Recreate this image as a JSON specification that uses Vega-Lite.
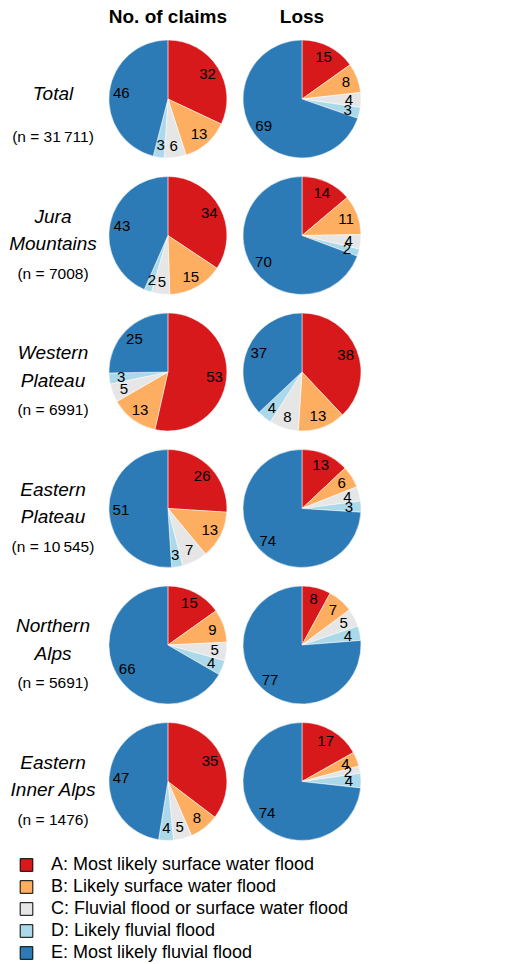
{
  "$schema": "https://vega.github.io/schema/vega-lite/v6.json",
  "padding": {"left": 0, "top": 8, "right": 0, "bottom": 0},
  "background": "white",
  "bounds": "flush",
  "config": {"font": "Liberation Sans", "view": {"stroke": null}},
  "datasets": {
    "cats": [
      {"code": "A", "category": "A: Most likely surface water flood"},
      {"code": "B", "category": "B: Likely surface water flood"},
      {"code": "C", "category": "C: Fluvial flood or surface water flood"},
      {"code": "D", "category": "D: Likely fluvial flood"},
      {"code": "E", "category": "E: Most likely fluvial flood"}
    ]
  },
  "data": {"values": [
    {"region": "Total", "measure": "label", "name": "Total", "n": "(n = 31\u2009711)"},
    {"region": "Jura Mountains", "measure": "label", "name": "Jura|Mountains", "n": "(n = 7008)"},
    {"region": "Western Plateau", "measure": "label", "name": "Western|Plateau", "n": "(n = 6991)"},
    {"region": "Eastern Plateau", "measure": "label", "name": "Eastern|Plateau", "n": "(n = 10\u2009545)"},
    {"region": "Northern Alps", "measure": "label", "name": "Northern|Alps", "n": "(n = 5691)"},
    {"region": "Eastern Inner Alps", "measure": "label", "name": "Eastern|Inner Alps", "n": "(n = 1476)"},

    {"region": "Total", "measure": "No. of claims", "code": "A", "value": 32},
    {"region": "Total", "measure": "No. of claims", "code": "B", "value": 13},
    {"region": "Total", "measure": "No. of claims", "code": "C", "value": 6},
    {"region": "Total", "measure": "No. of claims", "code": "D", "value": 3},
    {"region": "Total", "measure": "No. of claims", "code": "E", "value": 46},
    {"region": "Total", "measure": "Loss", "code": "A", "value": 15},
    {"region": "Total", "measure": "Loss", "code": "B", "value": 8},
    {"region": "Total", "measure": "Loss", "code": "C", "value": 4},
    {"region": "Total", "measure": "Loss", "code": "D", "value": 3},
    {"region": "Total", "measure": "Loss", "code": "E", "value": 69},

    {"region": "Jura Mountains", "measure": "No. of claims", "code": "A", "value": 34},
    {"region": "Jura Mountains", "measure": "No. of claims", "code": "B", "value": 15},
    {"region": "Jura Mountains", "measure": "No. of claims", "code": "C", "value": 5},
    {"region": "Jura Mountains", "measure": "No. of claims", "code": "D", "value": 2},
    {"region": "Jura Mountains", "measure": "No. of claims", "code": "E", "value": 43},
    {"region": "Jura Mountains", "measure": "Loss", "code": "A", "value": 14},
    {"region": "Jura Mountains", "measure": "Loss", "code": "B", "value": 11},
    {"region": "Jura Mountains", "measure": "Loss", "code": "C", "value": 4},
    {"region": "Jura Mountains", "measure": "Loss", "code": "D", "value": 2},
    {"region": "Jura Mountains", "measure": "Loss", "code": "E", "value": 70},

    {"region": "Western Plateau", "measure": "No. of claims", "code": "A", "value": 53},
    {"region": "Western Plateau", "measure": "No. of claims", "code": "B", "value": 13},
    {"region": "Western Plateau", "measure": "No. of claims", "code": "C", "value": 5},
    {"region": "Western Plateau", "measure": "No. of claims", "code": "D", "value": 3},
    {"region": "Western Plateau", "measure": "No. of claims", "code": "E", "value": 25},
    {"region": "Western Plateau", "measure": "Loss", "code": "A", "value": 38},
    {"region": "Western Plateau", "measure": "Loss", "code": "B", "value": 13},
    {"region": "Western Plateau", "measure": "Loss", "code": "C", "value": 8},
    {"region": "Western Plateau", "measure": "Loss", "code": "D", "value": 4},
    {"region": "Western Plateau", "measure": "Loss", "code": "E", "value": 37},

    {"region": "Eastern Plateau", "measure": "No. of claims", "code": "A", "value": 26},
    {"region": "Eastern Plateau", "measure": "No. of claims", "code": "B", "value": 13},
    {"region": "Eastern Plateau", "measure": "No. of claims", "code": "C", "value": 7},
    {"region": "Eastern Plateau", "measure": "No. of claims", "code": "D", "value": 3},
    {"region": "Eastern Plateau", "measure": "No. of claims", "code": "E", "value": 51},
    {"region": "Eastern Plateau", "measure": "Loss", "code": "A", "value": 13},
    {"region": "Eastern Plateau", "measure": "Loss", "code": "B", "value": 6},
    {"region": "Eastern Plateau", "measure": "Loss", "code": "C", "value": 4},
    {"region": "Eastern Plateau", "measure": "Loss", "code": "D", "value": 3},
    {"region": "Eastern Plateau", "measure": "Loss", "code": "E", "value": 74},

    {"region": "Northern Alps", "measure": "No. of claims", "code": "A", "value": 15},
    {"region": "Northern Alps", "measure": "No. of claims", "code": "B", "value": 9},
    {"region": "Northern Alps", "measure": "No. of claims", "code": "C", "value": 5},
    {"region": "Northern Alps", "measure": "No. of claims", "code": "D", "value": 4},
    {"region": "Northern Alps", "measure": "No. of claims", "code": "E", "value": 66},
    {"region": "Northern Alps", "measure": "Loss", "code": "A", "value": 8},
    {"region": "Northern Alps", "measure": "Loss", "code": "B", "value": 7},
    {"region": "Northern Alps", "measure": "Loss", "code": "C", "value": 5},
    {"region": "Northern Alps", "measure": "Loss", "code": "D", "value": 4},
    {"region": "Northern Alps", "measure": "Loss", "code": "E", "value": 77},

    {"region": "Eastern Inner Alps", "measure": "No. of claims", "code": "A", "value": 35},
    {"region": "Eastern Inner Alps", "measure": "No. of claims", "code": "B", "value": 8},
    {"region": "Eastern Inner Alps", "measure": "No. of claims", "code": "C", "value": 5},
    {"region": "Eastern Inner Alps", "measure": "No. of claims", "code": "D", "value": 4},
    {"region": "Eastern Inner Alps", "measure": "No. of claims", "code": "E", "value": 47},
    {"region": "Eastern Inner Alps", "measure": "Loss", "code": "A", "value": 17},
    {"region": "Eastern Inner Alps", "measure": "Loss", "code": "B", "value": 4},
    {"region": "Eastern Inner Alps", "measure": "Loss", "code": "C", "value": 2},
    {"region": "Eastern Inner Alps", "measure": "Loss", "code": "D", "value": 4},
    {"region": "Eastern Inner Alps", "measure": "Loss", "code": "E", "value": 74}
  ]},
  "transform": [
    {"lookup": "code", "from": {"data": {"name": "cats"}, "key": "code", "fields": ["category"]}}
  ],
  "facet": {
    "row": {"field": "region", "type": "nominal", "sort": ["Total", "Jura Mountains", "Western Plateau", "Eastern Plateau", "Northern Alps", "Eastern Inner Alps"], "header": null},
    "column": {"field": "measure", "type": "nominal", "sort": ["label", "No. of claims", "Loss"], "title": null,
      "header": {"labelExpr": "datum.value == 'label' ? '' : datum.value", "labelFontSize": 19, "labelFontWeight": "bold", "labelColor": "black", "labelPadding": 13}}
  },
  "spacing": {"row": 18.5, "column": 66.1},
  "spec": {
    "width": 67.6,
    "height": 118,
    "layer": [
      {
        "transform": [{"filter": "datum.measure != 'label'"}],
        "mark": {"type": "arc", "outerRadius": 59, "stroke": "white", "strokeWidth": 0.5},
        "encoding": {
          "theta": {"field": "value", "type": "quantitative", "stack": "normalize"},
          "order": {"field": "code", "sort": "ascending"},
          "color": {
            "field": "category", "type": "nominal",
            "scale": {
              "domain": ["A: Most likely surface water flood", "B: Likely surface water flood", "C: Fluvial flood or surface water flood", "D: Likely fluvial flood", "E: Most likely fluvial flood"],
              "range": ["#d7191c", "#fdae61", "#e6e6e6", "#abd9e9", "#2c7bb6"]
            },
            "legend": {
              "orient": "none", "legendX": 17.5, "legendY": 816, "title": null,
              "symbolType": "square", "symbolSize": 160, "symbolStrokeColor": "black", "symbolStrokeWidth": 1, "symbolOpacity": 1,
              "labelFontSize": 18, "labelColor": "black", "labelOffset": 15.5, "labelLimit": 0, "rowPadding": 4, "padding": 0
            }
          }
        }
      },
      {
        "transform": [{"filter": "datum.measure != 'label'"}],
        "mark": {"type": "text", "radius": 47, "fontSize": 15, "color": "black"},
        "encoding": {
          "theta": {"field": "value", "type": "quantitative", "stack": "normalize"},
          "order": {"field": "code", "sort": "ascending"},
          "detail": {"field": "code"},
          "text": {"field": "value", "type": "quantitative"}
        }
      },
      {
        "transform": [{"filter": "datum.measure == 'label' && indexof(datum.name, '|') < 0"}],
        "mark": {"type": "text", "fontSize": 19, "fontStyle": "italic", "dx": 19.2, "dy": -5, "baseline": "middle", "align": "center", "color": "black"},
        "encoding": {"text": {"field": "name"}}
      },
      {
        "transform": [{"filter": "datum.measure == 'label' && indexof(datum.name, '|') >= 0"}],
        "mark": {"type": "text", "fontSize": 19, "fontStyle": "italic", "lineBreak": "|", "lineHeight": 27.7, "dx": 19.2, "dy": -19, "baseline": "middle", "align": "center", "color": "black"},
        "encoding": {"text": {"field": "name"}}
      },
      {
        "transform": [{"filter": "datum.measure == 'label'"}],
        "mark": {"type": "text", "fontSize": 15.5, "dx": 19.2, "dy": 38, "baseline": "middle", "align": "center", "color": "black"},
        "encoding": {"text": {"field": "n"}}
      }
    ]
  }
}
